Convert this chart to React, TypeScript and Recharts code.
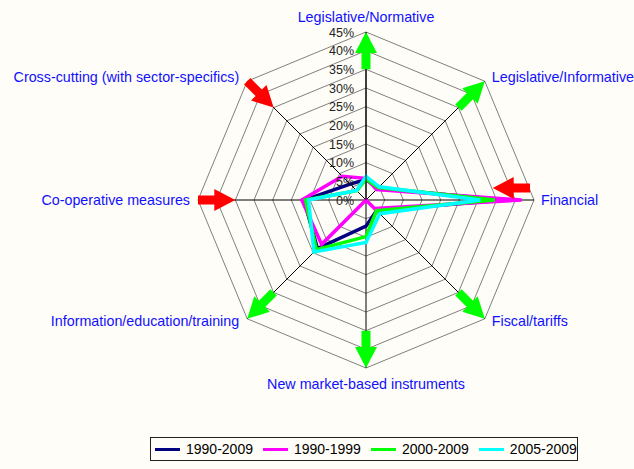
import React from 'react';
import { RadarChart, Radar, PolarGrid, PolarAngleAxis, PolarRadiusAxis, Legend } from 'recharts';

const categories = [
  'Legislative/Normative',
  'Legislative/Informative',
  'Financial',
  'Fiscal/tariffs',
  'New market-based instruments',
  'Information/education/training',
  'Co-operative measures',
  'Cross-cutting (with sector-specifics)',
];
const series1990_2009 = [5.5, 4.5, 37, 4, 7, 18.4, 16.6, 6];
const series1990_1999 = [5.8, 4, 41.7, 3.2, 0, 16.8, 17.2, 9];
const series2000_2009 = [5.6, 4.7, 34.5, 4, 9.8, 18.8, 16.2, 3.5];
const series2005_2009 = [6.3, 5, 30.6, 5.2, 11.4, 19.7, 15.4, 3.6];
const seriesNames = ['1990-2009', '1990-1999', '2000-2009', '2005-2009'];
const seriesColors = ['#000080', '#FF00FF', '#00FF00', '#00FFFF'];
const radiusTicks = [0, 5, 10, 15, 20, 25, 30, 35, 40, 45];
// arrow per category: 'out' = green arrow outward, 'in' = red arrow inward
const arrowKinds = ['out', 'out', 'in', 'out', 'out', 'out', 'in', 'in'];
const arrowSideShift = [0, 0, -12, 0, 0, 0, 0, 0];

const data = categories.map((c, i) => ({
  category: c,
  s1: series1990_2009[i],
  s2: series1990_1999[i],
  s3: series2000_2009[i],
  s4: series2005_2009[i],
}));

const BG = '#FFFDF7';
const FONT = '"Liberation Sans", Arial, sans-serif';
const R = 168;
const MAXV = 45;

const arrowPath = (bx: number, by: number, dx: number, dy: number) => {
  const L = (R * 10) / MAXV;
  const hl = 21;
  const hh = 11;
  const sh = 4.5;
  const nx = -dy, ny = dx;
  const mx = bx + dx * (L - hl), my = by + dy * (L - hl);
  const tx = bx + dx * L, ty = by + dy * L;
  const pts = [
    [bx + nx * sh, by + ny * sh],
    [mx + nx * sh, my + ny * sh],
    [mx + nx * hh, my + ny * hh],
    [tx, ty],
    [mx - nx * hh, my - ny * hh],
    [mx - nx * sh, my - ny * sh],
    [bx - nx * sh, by - ny * sh],
  ];
  return pts.map((p) => p[0].toFixed(1) + ',' + p[1].toFixed(1)).join(' ');
};

const AngleTick = (props: any) => {
  const { x, y, payload, index } = props;
  const a = (payload.coordinate * Math.PI) / 180;
  const ux = Math.cos(a);
  const uy = -Math.sin(a);
  const vx = x - 8 * ux;
  const vy = y - 8 * uy;
  let tx = vx;
  let ty = vy;
  let anchor: 'start' | 'middle' | 'end' = 'middle';
  if (Math.abs(ux) < 0.1) {
    ty = uy < 0 ? vy - 10 : vy + 21;
  } else {
    anchor = ux > 0 ? 'start' : 'end';
    tx = vx + (ux > 0 ? 7 : -8);
    const c = vy + (uy < -0.1 ? -4 : uy > 0.1 ? 2 : 0);
    ty = c + 5;
  }
  const kind = arrowKinds[index];
  const L = (R * 10) / MAXV;
  let arrow;
  if (kind === 'out') {
    arrow = <polygon points={arrowPath(vx - ux * L, vy - uy * L, ux, uy)} fill="#00FF00" />;
  } else {
    const s = arrowSideShift[index];
    const bx = s !== 0 ? vx - ux * 4 : vx;
    const by = s !== 0 ? vy - uy * 4 + s : vy;
    arrow = <polygon points={arrowPath(bx, by, -ux, -uy)} fill="#FF0000" />;
  }
  return (
    <g>
      {arrow}
      <text x={tx} y={ty} textAnchor={anchor} fontSize={14.3} fill="#1010FF" fontFamily={FONT}>
        {payload.value}
      </text>
    </g>
  );
};

const RadiusTick = (props: any) => {
  const { x, y, payload } = props;
  return (
    <text x={x - 12} y={y + 4.5} textAnchor="end" fontSize={12.5} fill="#222" fontFamily={FONT}>
      {payload.value}%
    </text>
  );
};

const LegendContent = () => (
  <div
    style={{
      display: 'flex',
      alignItems: 'center',
      border: '1px solid #222',
      background: BG,
      height: 24,
      boxSizing: 'border-box',
      paddingLeft: 4,
      fontFamily: FONT,
      fontSize: 14,
      color: '#000',
      width: 428,
      whiteSpace: 'nowrap',
      overflow: 'hidden',
    }}
  >
    {seriesNames.map((n, i) => (
      <div key={n} style={{ display: 'flex', alignItems: 'center', marginRight: 10, flexShrink: 0 }}>
        <span
          style={{ display: 'inline-block', width: 25, height: 3, background: seriesColors[i], marginRight: 6, flexShrink: 0 }}
        />
        <span>{n}</span>
      </div>
    ))}
  </div>
);

export default function App() {
  const keys = ['s1', 's2', 's3', 's4'];
  return (
    <div style={{ position: 'absolute', left: 0, top: 0, width: 634, height: 469, background: BG }}>
      <RadarChart
        width={634}
        height={469}
        data={data}
        cx={366}
        cy={200}
        outerRadius={R}
        margin={{ top: 0, right: 0, bottom: 0, left: 0 }}
      >
        <PolarGrid gridType="polygon" radialLines={false} stroke="#808080" strokeWidth={1} />
        <PolarGrid gridType="polygon" polarRadius={[]} stroke="#000" strokeWidth={1} />
        <PolarRadiusAxis
          angle={90}
          domain={[0, MAXV]}
          ticks={radiusTicks as any}
          tickCount={10}
          axisLine={{ stroke: '#000', strokeWidth: 1 }}
          tick={<RadiusTick />}
        />
        {keys.map((k, i) => (
          <Radar
            key={k}
            dataKey={k}
            name={seriesNames[i]}
            stroke={seriesColors[i]}
            strokeWidth={3.5}
            fill="none"
            fillOpacity={0}
            dot={false}
            isAnimationActive={false}
          />
        ))}
        <PolarAngleAxis dataKey="category" axisLine={false} tickLine={false} tick={<AngleTick />} />
        <Legend content={<LegendContent />} wrapperStyle={{ left: 150, top: 437, width: 428, height: 24 }} />
      </RadarChart>
    </div>
  );
}
